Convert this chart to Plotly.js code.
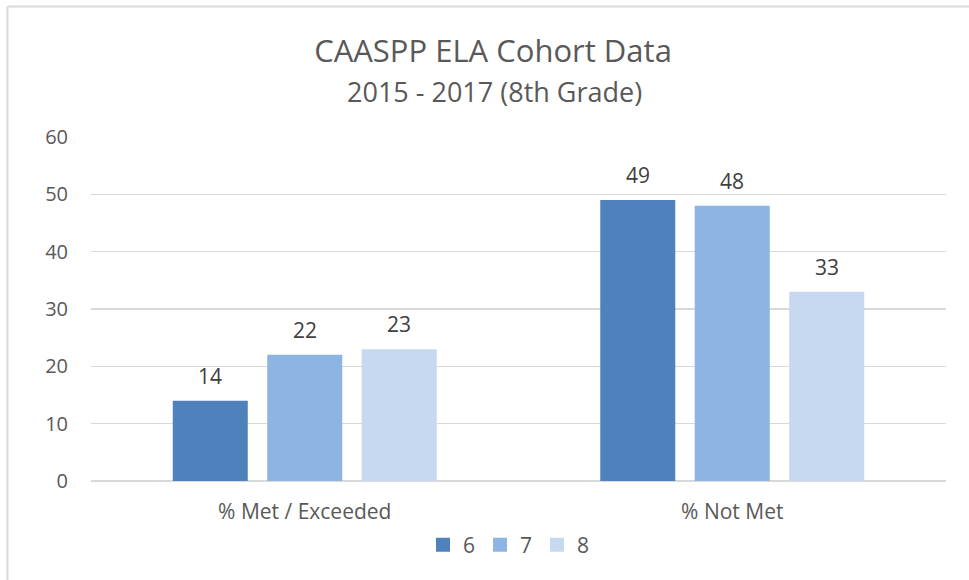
<!DOCTYPE html>
<html>
<head>
<meta charset="utf-8">
<script src="https://cdn.plot.ly/plotly-3.0.1.min.js"></script>
<style>html,body{margin:0;padding:0;background:#fff;}#chart{width:969px;height:580px;}</style>
</head>
<body>
<div id="chart"></div>
<script>
var chartTitle = "CAASPP ELA Cohort Data";
var chartSubtitle = "2015 - 2017 (8th Grade)";
var categories = ["% Met / Exceeded", "% Not Met"];
var seriesNames = ["6", "7", "8"];
var grade6 = [14, 49];
var grade7 = [22, 48];
var grade8 = [23, 33];
var yTicks = [0, 10, 20, 30, 40, 50, 60];

var colors = ["#4F81BD", "#8EB4E3", "#C6D9F1"];
var values = [grade6, grade7, grade8];
var font = "Open Sans, sans-serif";

var W = 969, H = 580, L = 91, R = 23, T = 137, B = 99;
var pw = W - L - R, ph = H - T - B;
function px(x) { return (x - L) / pw; }
function py(y) { return (H - B - y) / ph; }

var bargap = 0.337, bargroupgap = 0.206;
var slotPx = (pw / categories.length) * (1 - bargap) / values.length;

var traces = [];
values.forEach(function (v, i) {
  traces.push({
    type: "bar",
    name: seriesNames[i],
    x: categories,
    y: v,
    marker: {color: colors[i]},
    showlegend: false,
    hoverinfo: "x+y"
  });
});
// legend-only entries (square swatches)
values.forEach(function (v, i) {
  traces.push({
    type: "scatter",
    mode: "markers",
    name: seriesNames[i],
    x: [categories[0]],
    y: [null],
    marker: {symbol: "square", size: 14, color: colors[i]},
    showlegend: true,
    hoverinfo: "skip"
  });
});

var annotations = [];
values.forEach(function (v, i) {
  v.forEach(function (val, j) {
    annotations.push({
      x: categories[j], y: val, xref: "x", yref: "y",
      text: String(val), showarrow: false,
      xshift: (i - (values.length - 1) / 2) * slotPx,
      yshift: 25, yanchor: "middle",
      font: {family: font, size: 21, color: "#404040"}
    });
  });
});
annotations.push({
  xref: "paper", yref: "paper", x: px(494), y: py(91),
  text: chartSubtitle, showarrow: false, xanchor: "center", yanchor: "middle",
  font: {family: font, size: 27, color: "#595959"}
});

var layout = {
  width: W, height: H,
  margin: {l: L, r: R, t: T, b: B, pad: 0},
  paper_bgcolor: "#ffffff",
  plot_bgcolor: "#ffffff",
  font: {family: font, color: "#595959"},
  title: {
    text: chartTitle,
    font: {family: font, size: 31, color: "#595959"},
    x: px(493), xref: "paper", xanchor: "center",
    y: 1 - 51 / H, yref: "container", yanchor: "middle"
  },
  barmode: "group",
  bargap: bargap,
  bargroupgap: bargroupgap,
  xaxis: {
    type: "category",
    showgrid: false,
    showline: false,
    zeroline: false,
    ticks: "",
    tickfont: {family: font, size: 21, color: "#595959"},
    ticklabelstandoff: 16
  },
  yaxis: {
    range: [0, 60],
    tickvals: yTicks,
    ticktext: yTicks.map(String),
    showgrid: true,
    gridcolor: "#d9d9d9",
    gridwidth: 1.3,
    zeroline: true,
    zerolinecolor: "#d9d9d9",
    zerolinewidth: 1.3,
    showline: false,
    ticks: "",
    ticklabelstandoff: 22,
    tickfont: {family: font, size: 20, color: "#595959"}
  },
  showlegend: true,
  legend: {
    orientation: "h",
    x: px(509), xanchor: "center",
    y: py(545), yanchor: "middle",
    font: {family: font, size: 21, color: "#595959"},
    itemwidth: 30,
    tracegroupgap: 0,
    traceorder: "normal"
  },
  annotations: annotations,
  shapes: [
    {type: "line", xref: "paper", yref: "paper", x0: px(7.5), x1: px(7.5), y0: py(585), y1: py(6.5), line: {color: "#d9d9d9", width: 2}},
    {type: "line", xref: "paper", yref: "paper", x0: px(7.5), x1: px(975), y0: py(6.5), y1: py(6.5), line: {color: "#d9d9d9", width: 2}}
  ]
};

Plotly.newPlot("chart", traces, layout, {displayModeBar: false, staticPlot: true});
</script>
</body>
</html>
